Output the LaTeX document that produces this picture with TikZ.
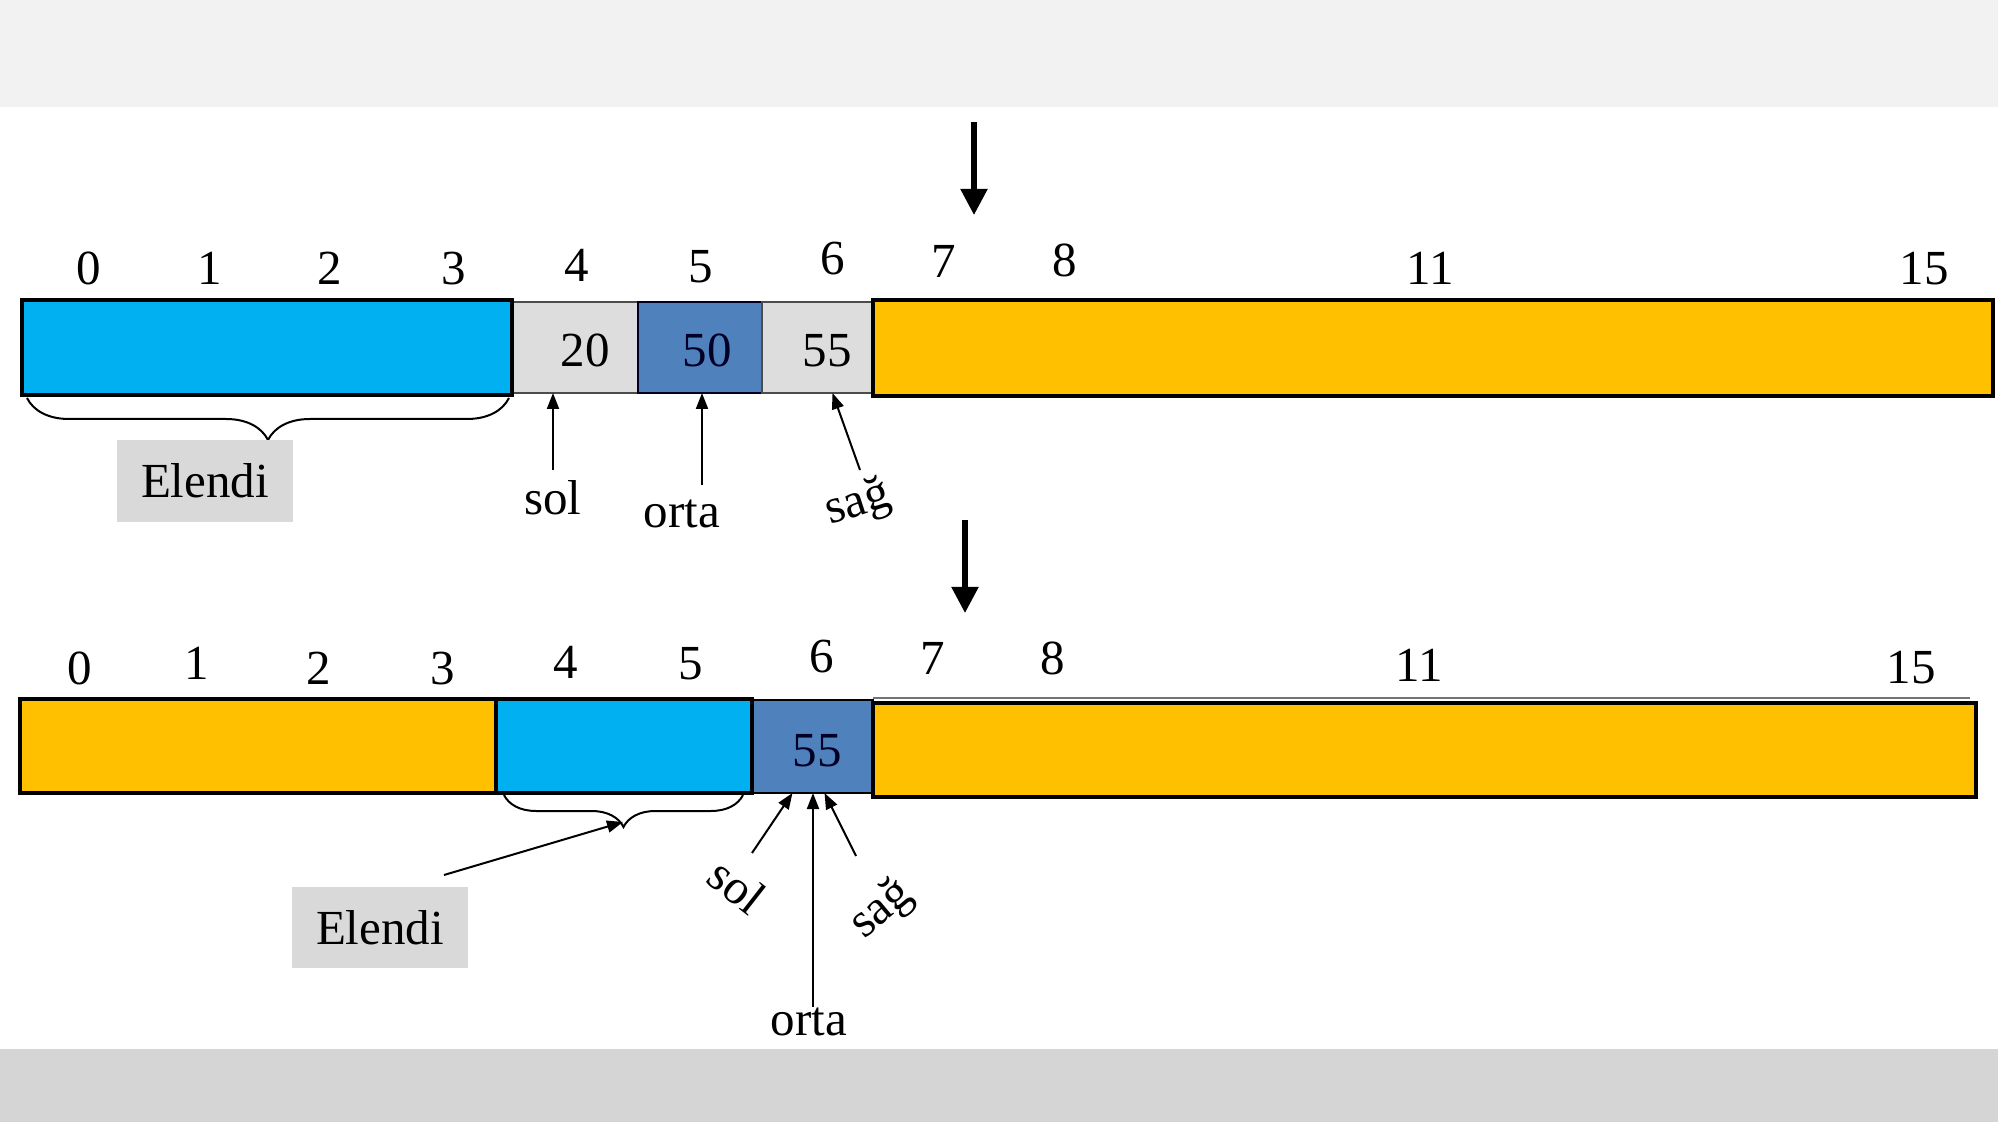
\documentclass[tikz,border=0pt]{standalone}
\usepackage{fontspec}
\setmainfont{Liberation Serif}
\usetikzlibrary{arrows.meta,decorations.pathreplacing,calc}
\definecolor{bgtop}{HTML}{F2F2F2}
\definecolor{bgbot}{HTML}{D5D5D5}
\definecolor{lblue}{HTML}{00B0F0}
\definecolor{dblue}{HTML}{4F81BD}
\definecolor{gold}{HTML}{FFC000}
\definecolor{cellgray}{HTML}{DDDDDD}
\definecolor{taggray}{HTML}{D9D9D9}
\begin{document}
\begin{tikzpicture}[x=0.5pt,y=-0.5pt,
  every node/.style={font=\fontsize{24.5pt}{29pt}\selectfont, inner sep=0pt, outer sep=0pt},
  thickbox/.style={draw=black, line width=2pt, minimum height=47.5pt},
  thinbox/.style={draw=black!70, line width=0.8pt, minimum height=45.5pt},
  idx/.style={anchor=base},
  ptr/.style={line width=1pt, -{Triangle[length=8pt,width=6pt]}},
  bigarrow/.style={line width=2.6pt, -{Triangle[length=13pt,width=13pt]}},
  brc/.style={decorate, decoration={brace, mirror, amplitude=#1}, line width=1pt},
  tag/.style={fill=taggray, minimum width=88pt, minimum height=41pt}
]
\fill[bgtop] (0,0) rectangle (1998,107);
\fill[bgbot] (0,1049) rectangle (1998,1122);
\useasboundingbox (0,0) rectangle (1998,1122);

% ---------- row 1 ----------
\coordinate (d1s) at (974,122);
\coordinate (d1e) at (974,215);
\draw[bigarrow] (d1s) -- (d1e);

\node[idx] (i1-0) at (89,285) {0};
\node[idx] (i1-1) at (210,285) {1};
\node[idx] (i1-2) at (330,285) {2};
\node[idx] (i1-3) at (454,285) {3};
\node[idx] (i1-4) at (577,282) {4};
\node[idx] (i1-5) at (701,283) {5};
\node[idx] (i1-6) at (833,275) {6};
\node[idx] (i1-7) at (944,278) {7};
\node[idx] (i1-8) at (1065,277) {8};
\node[idx] (i1-11) at (1430,285) {11};
\node[idx] (i1-15) at (1924,285) {15};

\node[thinbox, fill=cellgray, minimum width=62.5pt] (c4) at (575.5,347.5) {};
\node[thinbox, fill=dblue, draw=black!85!blue, minimum width=62pt] (c5) at (700,347.5) {};
\node[thinbox, fill=cellgray, minimum width=55.5pt] (c6) at (817.5,347.5) {};
\node[thickbox, fill=lblue, minimum width=245pt] (a1) at (267,347.5) {};
\node[thickbox, fill=gold, minimum width=560pt, minimum height=48pt] (y1) at (1433,348) {};

\node[idx] (v20) at (585,367) {20};
\node[idx, text=black!85!blue] (v50) at (707,367) {50};
\node[idx] (v55) at (827,367) {55};

\draw[brc=21pt] ($(a1.south west)+(5,3)$) -- ($(a1.south east)+(-3,3)$);
\node[tag] (e1) at (205,481) {Elendi};

\node[idx] (sol1) at (553,515) {sol};
\node[idx] (orta1) at (682,528) {orta};
\node[rotate=18] (sag1) at (858,504) {sağ};

\coordinate (t-sol1) at (553,470);
\coordinate (t-orta1) at (702,485);
\coordinate (t-sag1) at (860,470);
\draw[ptr] (t-sol1) -- (t-sol1 |- c4.south);
\draw[ptr] (t-orta1) -- (t-orta1 |- c5.south);
\draw[ptr] (t-sag1) -- ($(c6.south)+(15,0)$);

% ---------- row 2 ----------
\coordinate (d2s) at (965,520);
\coordinate (d2e) at (965,613);
\draw[bigarrow] (d2s) -- (d2e);

\node[idx] (i2-0) at (80,685) {0};
\node[idx] (i2-1) at (197,680) {1};
\node[idx] (i2-2) at (319,685) {2};
\node[idx] (i2-3) at (443,685) {3};
\node[idx] (i2-4) at (566,679) {4};
\node[idx] (i2-5) at (691,680) {5};
\node[idx] (i2-6) at (822,673) {6};
\node[idx] (i2-7) at (933,675) {7};
\node[idx] (i2-8) at (1053,675) {8};
\node[idx] (i2-11) at (1419,682) {11};
\node[idx] (i2-15) at (1911,684) {15};

\node[draw=black, line width=1.2pt, fill=dblue, minimum width=60.5pt, minimum height=46.5pt] (c6b) at (812.5,746.5) {};
\node[thickbox, fill=gold, minimum width=238pt, minimum height=47pt] (o2) at (258,746) {};
\node[thickbox, fill=lblue, minimum width=128pt, minimum height=47pt] (b2) at (624,746) {};
\node[thickbox, fill=gold, minimum width=551.5pt, minimum height=47pt] (y2) at (1424.5,750) {};
\draw[black!55, line width=1pt] ($(y2.north west)+(0,-5)$) -- ($(y2.north east)+(-6,-5)$);

\node[idx, text=black!85!blue] (v55b) at (817,767) {55};

\draw[brc=16pt] ($(b2.south west)+(8,2)$) -- ($(b2.south east)+(-9,2)$);
\node[tag, minimum height=40.5pt] (e2) at (380,927.5) {Elendi};
\coordinate (t-e2) at (444,875);
\coordinate (h-e2) at (623,822);
\draw[ptr] (t-e2) -- (h-e2);

\node[rotate=-38] (sol2) at (737,886) {sol};
\node[idx] (orta2) at (809,1035) {orta};
\node[rotate=40] (sag2) at (882,910) {sağ};

\coordinate (t-sol2) at (752,853);
\coordinate (t-orta2) at (813,1007);
\coordinate (t-sag2) at (856,856);
\draw[ptr] (t-sol2) -- ($(c6b.south)+(-20,0)$);
\draw[ptr] (t-orta2) -- (t-orta2 |- c6b.south);
\draw[ptr] (t-sag2) -- ($(c6b.south)+(12,0)$);
\end{tikzpicture}
\end{document}
